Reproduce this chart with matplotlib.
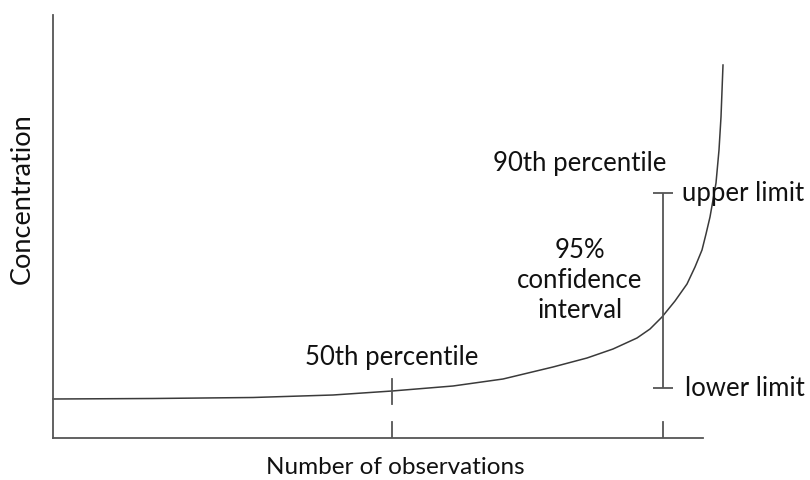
import matplotlib
matplotlib.use("Agg")
import matplotlib.pyplot as plt

# Curve values (abstract units)
curve_x = [0, 100, 200, 280, 339, 400, 450, 500, 534, 560, 584, 597, 609, 622, 634,
           642, 649, 653, 657, 660, 663, 666, 668, 670]
curve_y = [39, 39.5, 40.5, 43, 47, 52, 59, 71, 80, 89, 100, 109, 121, 137, 154,
           171, 188, 204, 221, 238, 255, 288, 321, 373]

p50_x = 339
p90_x = 610
ci_lower = 50
ci_upper = 245

labels = {
    "p50": "50th percentile",
    "p90": "90th percentile",
    "upper": "upper limit",
    "lower": "lower limit",
    "ci": "95%\nconfidence\ninterval",
    "xlabel": "Number of observations",
    "ylabel": "Concentration",
}

plt.rcParams['font.family'] = ['Lato', 'DejaVu Sans']
fig = plt.figure(figsize=(8.1, 4.8), dpi=100)
W, H = 810, 480
ax = fig.add_axes([53 / W, (H - 438) / H, (753 - 53) / W, (438 - 15) / H])
ax.set_xlim(0, 700)
ax.set_ylim(0, 423)
for s in ['top', 'right']:
    ax.spines[s].set_visible(False)
for s in ['left', 'bottom']:
    ax.spines[s].set_color('#555555')
    ax.spines[s].set_linewidth(1.3)
ax.spines['bottom'].set_bounds(0, 650)
ax.set_xticks([])
ax.set_yticks([])

ax.plot(curve_x, curve_y, color='#3a3a3a', lw=1.1, clip_on=False)

gray = '#555555'
# 50th percentile marks
ax.plot([p50_x, p50_x], [34, 59], color=gray, lw=1.3)
ax.plot([p50_x, p50_x], [0, 16], color=gray, lw=1.3)
# 90th percentile marks and CI
half = (ci_upper - ci_lower) / 2
ax.errorbar([p90_x], [(ci_lower + ci_upper) / 2], yerr=[[half], [half]],
            fmt='none', ecolor=gray, elinewidth=1.3, capsize=7, capthick=1.3)
ax.plot([p90_x, p90_x], [0, 16], color=gray, lw=1.3)

fs = 18.5
tc = '#111111'
ax.text(p50_x, 80, labels["p50"], ha='center', va='center', fontsize=fs, color=tc)
ax.text(527, 275, labels["p90"], ha='center', va='center', fontsize=fs, color=tc)
ax.text(629, 245, labels["upper"], ha='left', va='center', fontsize=fs, color=tc)
ax.text(632, 50, labels["lower"], ha='left', va='center', fontsize=fs, color=tc)
ax.text(527, 157, labels["ci"], ha='center', va='center', fontsize=fs, color=tc, linespacing=1.25)

fig.text(395 / W, 1 - 467 / H, labels["xlabel"], ha='center', va='center', fontsize=17.5, color=tc)
fig.text(22 / W, 1 - 199 / H, labels["ylabel"], ha='center', va='center', fontsize=19.5, color=tc, rotation=90)

fig.savefig("out.png", dpi=100)
